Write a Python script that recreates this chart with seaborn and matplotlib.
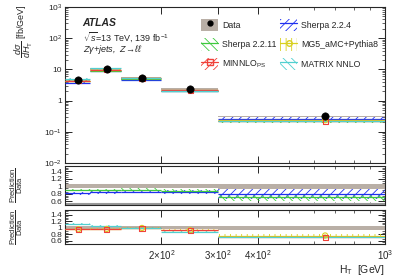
import numpy as np
import matplotlib
matplotlib.use("Agg")
import matplotlib.pyplot as plt
import matplotlib.ticker as mticker
from matplotlib.patches import Patch
from matplotlib.lines import Line2D
import seaborn as sns

# Data
ht_edges = [100, 120, 150, 200, 300, 1000]
data_x = [110, 135, 174, 246, 650]
data_y = [4.6, 10.2, 5.3, 2.35, 0.31]
data_unc = [0.05, 0.05, 0.05, 0.05, 0.06]

# ratio prediction / data, with relative band half-width
sherpa224 = [0.82, 0.84, 0.86, 0.84, 0.80]
sherpa224_unc = [0.04, 0.05, 0.05, 0.05, 0.13]
sherpa2211 = [0.90, 0.90, 0.91, 0.88, 0.70]
sherpa2211_unc = [0.03, 0.04, 0.04, 0.05, 0.09]
mg5 = [0.95, 0.96, 0.99, 0.92, 0.76]
mg5_unc = [0.02, 0.02, 0.02, 0.03, 0.04]
minnlo = [0.95, 0.95, 0.98, 0.92, 0.70]
minnlo_unc = [0.02, 0.02, 0.02, 0.02, 0.03]
matrix = [1.10, 1.05, 1.00, 0.88, 0.72]
matrix_unc = [0.03, 0.03, 0.03, 0.03, 0.03]

sns.set_theme(style="ticks")
plt.rcParams['font.family'] = ['Liberation Sans', 'DejaVu Sans']
plt.rcParams['mathtext.fontset'] = 'custom'
plt.rcParams['mathtext.rm'] = 'Liberation Sans'
plt.rcParams['mathtext.it'] = 'Liberation Sans:italic'
plt.rcParams['hatch.linewidth'] = 0.6

GRAY = "#b9afa6"
preds = [
    ("Sherpa 2.2.4", sherpa224, sherpa224_unc, "#1f2ff0", "////", None),
    ("Sherpa 2.2.11", sherpa2211, sherpa2211_unc, "#3ec93e", "\\\\\\\\", None),
    ("MG5_aMC+Pythia8", mg5, mg5_unc, "#d8d020", "|||", "o"),
    (r"MINNLO$_{\rm PS}$", minnlo, minnlo_unc, "#f0413a", "////", "s"),
    ("MATRIX NNLO", matrix, matrix_unc, "#50d0d0", "\\\\\\\\", None),
]

fig = plt.figure(figsize=(4.07, 2.76), dpi=100)
L, R = 65 / 407, 385 / 407
def mk(top, bot):
    return fig.add_axes([L, 1 - bot / 276, R - L, (bot - top) / 276])
ax = mk(7, 163)
ax2 = mk(166, 205)
ax3 = mk(210, 244)

edges = np.array(ht_edges, dtype=float)
dy = np.array(data_y)

def band(a, lo, hi, color, hatch, fill=False):
    for i in range(len(lo)):
        xs = edges[i:i + 2]
        if fill:
            a.fill_between(xs, lo[i], hi[i], color=color, linewidth=0, zorder=1)
        else:
            a.fill_between(xs, lo[i], hi[i], facecolor="none",
                           edgecolor=color, hatch=hatch, linewidth=0, zorder=2)

def central(a, vals, color):
    a.hlines(vals, edges[:-1], edges[1:], color=color, linewidth=0.9, zorder=3)

# top panel
du = np.array(data_unc)
band(ax, dy * (1 - du), dy * (1 + du), GRAY, None, fill=True)
for name, r, u, c, h, m in preds:
    r = np.array(r); u = np.array(u)
    band(ax, dy * (r - u), dy * (r + u), c, h)
    central(ax, dy * r, c)
    if m:
        sns.scatterplot(x=data_x, y=dy * r, ax=ax, marker=m, s=14, facecolor="none",
                        edgecolor=c, linewidth=0.8, zorder=4, legend=False)
sns.scatterplot(x=data_x, y=data_y, ax=ax, color="black", s=28, edgecolor="black",
                zorder=6, legend=False)

# ratio panels
for a, group in [(ax2, preds[:2]), (ax3, preds[2:])]:
    band(a, 1 - du, 1 + du, GRAY, None, fill=True)
    for name, r, u, c, h, m in group:
        r = np.array(r); u = np.array(u)
        band(a, r - u, r + u, c, h)
        central(a, r, c)
        if m:
            sns.scatterplot(x=data_x, y=r, ax=a, marker=m, s=14, facecolor="none",
                            edgecolor=c, linewidth=0.8, zorder=4, legend=False)
    a.set_ylim(0.5, 1.54)
    a.yaxis.set_major_locator(mticker.FixedLocator([0.6, 0.8, 1.0, 1.2, 1.4]))
    a.yaxis.set_major_formatter(mticker.FixedFormatter(["0.6", "0.8", "1", "1.2", "1.4"]))
    a.yaxis.set_minor_locator(mticker.MultipleLocator(0.05))
    a.text(-0.15, 0.5, r"$\dfrac{\rm Prediction}{\rm Data}$", transform=a.transAxes,
           rotation=90, ha="center", va="center", fontsize=5.5)
ax2.axhline(0.53, color="#999999", lw=1.5, zorder=1)

for a in (ax, ax2, ax3):
    a.set_xscale("log")
    a.set_xlim(100, 1000)
    a.xaxis.set_major_locator(mticker.FixedLocator([200, 300, 400, 1000]))
    a.xaxis.set_minor_locator(mticker.LogLocator(subs=np.arange(1, 10), numticks=20))
    a.xaxis.set_minor_formatter(mticker.NullFormatter())
    a.tick_params(which="both", direction="in", top=True, right=True, labelsize=6, pad=2)
    a.tick_params(which="major", length=5, width=0.7)
    a.tick_params(which="minor", length=2.5, width=0.5)
    a.set_xlabel(""); a.set_ylabel("")
    for s in a.spines.values():
        s.set_linewidth(0.8)
    if a is not ax3:
        a.xaxis.set_major_formatter(mticker.NullFormatter())
ax3.xaxis.set_major_formatter(mticker.FixedFormatter(
    [r"$2{\times}10^{2}$", r"$3{\times}10^{2}$", r"$4{\times}10^{2}$", r"$10^{3}$"]))
ax3.tick_params(axis="x", labelsize=7, pad=3)

ax.set_yscale("log")
ax.set_ylim(0.01, 1000)
ax.yaxis.set_major_locator(mticker.FixedLocator([0.01, 0.1, 1, 10, 100, 1000]))
ax.yaxis.set_major_formatter(mticker.FixedFormatter(
    [r"$10^{-2}$", r"$10^{-1}$", "1", "10", r"$10^{2}$", r"$10^{3}$"]))
ax.yaxis.set_minor_locator(mticker.LogLocator(subs=np.arange(1, 10), numticks=20))
ax.yaxis.set_minor_formatter(mticker.NullFormatter())

fig.text(24 / 407, 1 - 4 / 276, r"$\dfrac{d\sigma}{dH_{\rm T}}$ [fb/GeV]",
         rotation=90, ha="center", va="top", fontsize=6.5)
ax3.text(1.0, -0.55, r"H$_{\rm T}$  [GeV]", transform=ax3.transAxes,
         ha="right", va="top", fontsize=7.5)

ax.text(0.055, 0.93, "ATLAS", transform=ax.transAxes, fontsize=7.5,
        fontweight="bold", fontstyle="italic", va="top")
ax.text(0.055, 0.85, r"$\sqrt{s}$=13 TeV, 139 fb$^{-1}$", transform=ax.transAxes,
        fontsize=6.5, va="top")
ax.text(0.055, 0.77, r"$Z\gamma$+jets,  $Z\!\rightarrow\!\ell\ell$", transform=ax.transAxes,
        fontsize=6.5, va="top", fontstyle="italic")

# legend
def ph(c, h, m):
    p = Patch(facecolor="none", edgecolor=c, hatch=h, linewidth=0)
    ln = Line2D([], [], color=c, lw=0.9, marker=m, mfc="none", ms=4)
    return (p, ln)
hd = {n: ph(c, h, m) for n, r, u, c, h, m in preds}
data_h = (Patch(facecolor=GRAY, edgecolor="none"),
          Line2D([], [], ls="none", marker="o", color="black", ms=3.5))
order = ["Data", "Sherpa 2.2.11", r"MINNLO$_{\rm PS}$", "Sherpa 2.2.4",
         "MG5_aMC+Pythia8", "MATRIX NNLO"]
handles = [data_h if o == "Data" else hd[o] for o in order]
ax.legend(handles, order, ncol=2, loc="upper left", bbox_to_anchor=(0.40, 0.975),
          frameon=False, fontsize=6.3, handlelength=2.0, handleheight=1.8,
          columnspacing=0.4, labelspacing=0.8, handletextpad=0.4)

fig.savefig("out.png", dpi=100)
